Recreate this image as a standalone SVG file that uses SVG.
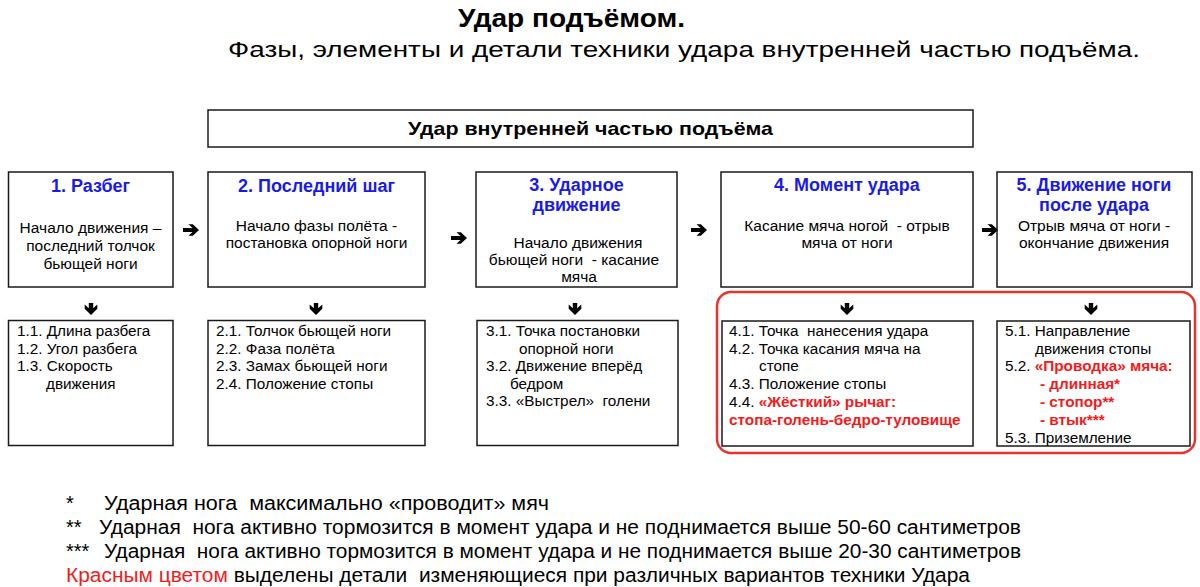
<svg xmlns="http://www.w3.org/2000/svg" width="1200" height="587" viewBox="0 0 1200 587" xml:space="preserve">
<style>
text{font-family:"Liberation Sans",Arial,sans-serif;fill:#000;white-space:pre}
.box{fill:#fff;stroke:#1a1a1a;stroke-width:1.5}
.h{font-size:18px;font-weight:bold;fill:#1a1ae6;text-anchor:middle}
.b{font-size:15.5px;text-anchor:middle}
.l{font-size:15.3px}
.r{fill:#f21b1b;font-weight:bold}
.fn{font-size:20px}
.red{fill:#f21b1b}
.arr{fill:#000}
</style>
<defs>
<path id="ar" d="M0,-2 L9.5,-2 L5.5,-5.8 L9.8,-5.8 L16,0 L9.8,5.8 L5.5,5.8 L9.5,2 L0,2 Z"/>
<path id="ad" d="M-2.2,0 L2.2,0 L2.2,5.2 L6.3,1.6 L6.3,5.8 L0,12 L-6.3,5.8 L-6.3,1.6 L-2.2,5.2 Z"/>
</defs>
<rect width="1200" height="587" fill="#fff"/>

<g id="titles">
<text x="458" y="27" font-size="26.5" font-weight="bold" textLength="227" lengthAdjust="spacingAndGlyphs">Удар подъёмом.</text>
<text x="228" y="57" font-size="22" textLength="912" lengthAdjust="spacingAndGlyphs">Фазы, элементы и детали техники удара внутренней частью подъёма.</text>
</g>

<g id="main">
<rect class="box" x="208" y="110" width="765" height="37"/>
<text x="590.5" y="135" font-size="19" font-weight="bold" text-anchor="middle" textLength="365" lengthAdjust="spacingAndGlyphs">Удар внутренней частью подъёма</text>
</g>

<g id="phase1">
<rect class="box" x="8.5" y="172" width="164.5" height="115"/>
<text class="h" x="90.5" y="192">1. Разбег</text>
<text class="b" x="90.5" y="233">Начало движения –</text>
<text class="b" x="90.5" y="251">последний толчок</text>
<text class="b" x="90.5" y="269">бьющей ноги</text>
</g>
<g id="phase2">
<rect class="box" x="208" y="172" width="217" height="115"/>
<text class="h" x="316.5" y="192">2. Последний шаг</text>
<text class="b" x="316.5" y="231">Начало фазы полёта -</text>
<text class="b" x="316.5" y="248">постановка опорной ноги</text>
</g>
<g id="phase3">
<rect class="box" x="476" y="172" width="201" height="115"/>
<text class="h" x="576.5" y="191">3. Ударное</text>
<text class="h" x="576.5" y="211">движение</text>
<text class="b" x="578" y="248">Начало движения</text>
<text class="b" x="574" y="265">бьющей ноги  - касание</text>
<text class="b" x="579" y="282">мяча</text>
</g>
<g id="phase4">
<rect class="box" x="721" y="172" width="252" height="115"/>
<text class="h" x="847" y="191">4. Момент удара</text>
<text class="b" x="847" y="231">Касание мяча ногой  - отрыв</text>
<text class="b" x="847" y="248">мяча от ноги</text>
</g>
<g id="phase5">
<rect class="box" x="997" y="172" width="195" height="115"/>
<text class="h" x="1094" y="191">5. Движение ноги</text>
<text class="h" x="1094" y="211">после удара</text>
<text class="b" x="1094" y="231">Отрыв мяча от ноги -</text>
<text class="b" x="1094" y="248">окончание движения</text>
</g>

<g id="highlight">
<rect x="717" y="292" width="478" height="161" rx="14" fill="none" stroke="#e8322c" stroke-width="2.5"/>
</g>

<g id="details1">
<rect class="box" x="8.5" y="320.5" width="164.5" height="125"/>
<text class="l" x="17" y="336">1.1. Длина разбега</text>
<text class="l" x="17" y="353.5">1.2. Угол разбега</text>
<text class="l" x="17" y="371">1.3. Скорость</text>
<text class="l" x="46" y="388.5">движения</text>
</g>
<g id="details2">
<rect class="box" x="208" y="320.5" width="217" height="125"/>
<text class="l" x="216" y="336">2.1. Толчок бьющей ноги</text>
<text class="l" x="216" y="353.5">2.2. Фаза полёта</text>
<text class="l" x="216" y="371">2.3. Замах бьющей ноги</text>
<text class="l" x="216" y="388.5">2.4. Положение стопы</text>
</g>
<g id="details3">
<rect class="box" x="477" y="320.5" width="201" height="125"/>
<text class="l" x="486" y="336">3.1. Точка постановки</text>
<text class="l" x="519" y="353.5">опорной ноги</text>
<text class="l" x="486" y="371">3.2. Движение вперёд</text>
<text class="l" x="510" y="388.5">бедром</text>
<text class="l" x="486" y="406">3.3. «Выстрел»  голени</text>
</g>
<g id="details4">
<rect class="box" x="722" y="321" width="251" height="125"/>
<text class="l" x="729" y="336">4.1. Точка  нанесения удара</text>
<text class="l" x="729" y="353.5">4.2. Точка касания мяча на</text>
<text class="l" x="759" y="371">стопе</text>
<text class="l" x="729" y="389">4.3. Положение стопы</text>
<text class="l" x="729" y="407">4.4. <tspan class="r">«Жёсткий» рычаг:</tspan></text>
<text class="l r" x="729" y="425">стопа-голень-бедро-туловище</text>
</g>
<g id="details5">
<rect class="box" x="997" y="321" width="193" height="125"/>
<text class="l" x="1005" y="336">5.1. Направление</text>
<text class="l" x="1035" y="353.5">движения стопы</text>
<text class="l" x="1005" y="371">5.2. <tspan class="r">«Проводка» мяча:</tspan></text>
<text class="l r" x="1040" y="389">- длинная*</text>
<text class="l r" x="1040" y="407">- стопор**</text>
<text class="l r" x="1040" y="425">- втык***</text>
<text class="l" x="1005" y="443">5.3. Приземление</text>
</g>

<g id="connectors" class="arr">
<use href="#ar" x="183" y="230"/>
<use href="#ar" x="451" y="238"/>
<use href="#ar" x="691" y="230"/>
<use href="#ar" x="982" y="230"/>
<use href="#ad" x="91" y="303"/>
<use href="#ad" x="316" y="303"/>
<use href="#ad" x="575" y="303"/>
<use href="#ad" x="847" y="303"/>
<use href="#ad" x="1091" y="303"/>
</g>

<g id="footnotes">
<text class="fn" x="66" y="510">*</text>
<text class="fn" x="104" y="510" textLength="445" lengthAdjust="spacingAndGlyphs">Ударная нога  максимально «проводит» мяч</text>
<text class="fn" x="66" y="534">**</text>
<text class="fn" x="99" y="534" textLength="922" lengthAdjust="spacingAndGlyphs">Ударная  нога активно тормозится в момент удара и не поднимается выше 50-60 сантиметров</text>
<text class="fn" x="66" y="558">***</text>
<text class="fn" x="104" y="558" textLength="917" lengthAdjust="spacingAndGlyphs">Ударная  нога активно тормозится в момент удара и не поднимается выше 20-30 сантиметров</text>
<text class="fn" x="66" y="582" textLength="904" lengthAdjust="spacingAndGlyphs"><tspan class="red">Красным цветом</tspan> выделены детали  изменяющиеся при различных вариантов техники Удара</text>
</g>
</svg>
